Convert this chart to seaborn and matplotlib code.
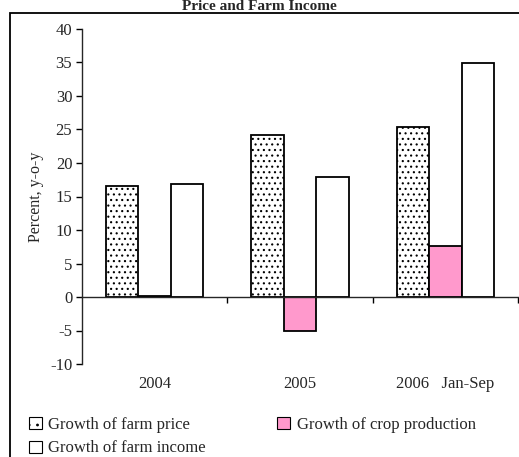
import matplotlib
matplotlib.use("Agg")
import matplotlib.pyplot as plt
import seaborn as sns
import pandas as pd
from matplotlib.patches import Patch, Rectangle
from matplotlib.ticker import FixedLocator

periods = ["2004", "2005", "2006   Jan-Sep"]
series = ["Growth of farm price", "Growth of crop production", "Growth of farm income"]
farm_price = [16.6, 24.2, 25.3]
crop_production = [0.2, -5.0, 7.6]
farm_income = [16.8, 17.9, 34.9]
yticks = list(range(-10, 45, 5))

rows = []
for s, vals in zip(series, [farm_price, crop_production, farm_income]):
    for p, v in zip(periods, vals):
        rows.append({"period": p, "series": s, "value": v})
df = pd.DataFrame(rows)

sns.set_style("white")
plt.rcParams["font.family"] = ["Liberation Serif", "DejaVu Serif"]
plt.rcParams["axes.unicode_minus"] = False
plt.rcParams["hatch.linewidth"] = 0.8
plt.rcParams["hatch.color"] = "#444444"

W, H = 519, 457
fig = plt.figure(figsize=(W / 100, H / 100), dpi=100)
ax = fig.add_axes([82 / W, 1 - 364 / H, 436 / W, (364 - 29) / H])

pink = "#FF99CC"
colors = ["white", pink, "white"]
sns.barplot(data=df, x="period", y="value", hue="series", order=periods,
            hue_order=series, palette=colors, width=0.67, gap=0,
            saturation=1, edgecolor="black", linewidth=1.3, legend=False, ax=ax)
for patch in ax.containers[0]:
    patch.set_hatch("...")

ax.set_xlim(-0.5, 2.5)
ax.set_ylim(-10, 40)
ax.yaxis.set_major_locator(FixedLocator(yticks))
ax.tick_params(axis="y", direction="out", length=4, width=1, labelsize=12,
               left=True, pad=3, color="black")
ax.spines["top"].set_visible(False)
ax.spines["right"].set_visible(False)
ax.spines["left"].set_linewidth(1)
ax.spines["bottom"].set_position(("data", 0))
ax.spines["bottom"].set_linewidth(1)
ax.xaxis.set_minor_locator(FixedLocator([0.5, 1.5, 2.5]))
ax.tick_params(axis="x", which="minor", direction="out", length=4, width=1,
               bottom=True, color="black")
ax.tick_params(axis="x", which="major", length=0, labelsize=12, pad=57)
ax.set_xlabel("")
ax.set_ylabel("Percent, y-o-y", fontsize=11.5, labelpad=4)

h_price = Patch(facecolor="white", edgecolor="black", hatch="..", linewidth=0.8)
h_crop = Patch(facecolor=pink, edgecolor="black", linewidth=0.8)
h_income = Patch(facecolor="white", edgecolor="black", linewidth=0.8)
fig.legend([h_price, h_income, h_crop], [series[0], series[2], series[1]],
           loc="upper left", bbox_to_anchor=(29 / W, 1 - 417 / H),
           ncol=2, frameon=False, fontsize=12, handlelength=0.75, handleheight=0.75,
           handletextpad=0.4, columnspacing=4.3, labelspacing=0.45, borderpad=0,
           borderaxespad=0)

fig.patches.append(Rectangle((10 / W, -0.1), 1.5, 1 - 13 / H + 0.1,
                             transform=fig.transFigure, fill=False,
                             edgecolor="black", linewidth=1.3))
fig.text(0.5, 1 - 10 / H, "Price and Farm Income", ha="center", va="baseline",
         fontsize=11, fontweight="bold")

fig.savefig("out.png", dpi=100)
